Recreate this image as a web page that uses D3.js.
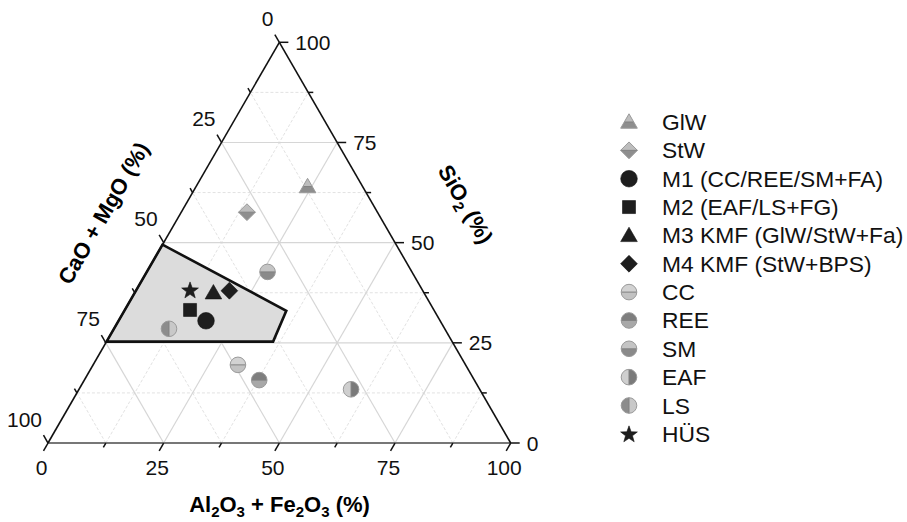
<!DOCTYPE html>
<html>
<head>
<meta charset="utf-8">
<script src="https://cdn.jsdelivr.net/npm/d3@7"></script>
<style>
  html,body{margin:0;padding:0;background:#fff;}
  svg{display:block;font-family:"Liberation Sans",Arial,sans-serif;}
</style>
</head>
<body>
<svg id="chart" width="907" height="522"></svg>
<script>
// ---------------- DATA ----------------
const names = ["GlW","StW","M1 (CC/REE/SM+FA)","M2 (EAF/LS+FG)","M3 KMF (GlW/StW+Fa)","M4 KMF (StW+BPS)","CC","REE","SM","EAF","LS","HÜS"];
const alFe  = [24.1, 14.2, 18.9, 14.1, 17.0, 20.2, 31.3, 37.8, 26.1, 58.8, 11.9, 11.6];
const caoMg = [11.9, 28.2, 50.6, 52.7, 45.5, 41.8, 49.2, 46.5, 31.2, 27.8, 59.6, 50.2];
const sio2  = [64.0, 57.6, 30.5, 33.2, 37.5, 38.0, 19.5, 15.7, 42.7, 13.4, 28.5, 38.2];
const shapes = ["triangle","diamond","circle","square","triangle","diamond","circle","circle","circle","circle","circle","star"];
const fillsA = ["#bdbdbd","#bdbdbd","#1e1e1e","#1e1e1e","#1e1e1e","#1e1e1e","#d2d2d2","#7e7e7e","#c4c4c4","#cfcfcf","#8c8c8c","#1e1e1e"];
const fillsB = ["#8e8e8e","#8e8e8e","#1e1e1e","#1e1e1e","#1e1e1e","#1e1e1e","#c2c2c2","#a8a8a8","#8a8a8a","#7a7a7a","#c8c8c8","#1e1e1e"];
const splits = ["h","h",null,null,null,null,"h","h","h","v","v",null];

// field polygon (Al2O3+Fe2O3, CaO+MgO, SiO2)
const polyAl  = [0, 0, 36, 35];
const polyCao = [50.5, 74.7, 38.7, 32];
const polySi  = [49.5, 25.3, 25.3, 33];

const majorTicks = [0, 25, 50, 75, 100];
const minorTicks = [12.5, 37.5, 62.5, 87.5];
const gridMajor = [25, 50, 75];

// ---------------- SCALES ----------------
const svg = d3.select("#chart");
const xS = d3.scaleLinear().domain([0,100]).range([48,510.7]);
const yS = d3.scaleLinear().domain([0,100]).range([443,42.3]);
const proj = (al, si) => [xS(al + si/2), yS(si)];

const defs = svg.append("defs");
[["clipTop",-20,-20,40,20],["clipBot",-20,0,40,20],["clipLeft",-20,-20,20,40],["clipRight",0,-20,20,40]].forEach(c=>{
  defs.append("clipPath").attr("id",c[0]).attr("clipPathUnits","userSpaceOnUse")
    .append("rect").attr("x",c[1]).attr("y",c[2]).attr("width",c[3]).attr("height",c[4]);
});

// ---------------- GRID ----------------
const grid = svg.append("g");
function gridLines(v, major){
  const segs = [
    [proj(0,v), proj(100-v,v)],          // const SiO2
    [proj(v,0), proj(v,100-v)],          // const Al2O3
    [proj(100-v,0), proj(0,100-v)]       // const CaO
  ];
  segs.forEach(s=>{
    grid.append("line")
      .attr("x1",s[0][0]).attr("y1",s[0][1]).attr("x2",s[1][0]).attr("y2",s[1][1])
      .attr("stroke", major ? "#d6d6d6" : "#e2e2e2")
      .attr("stroke-width", major ? 1.2 : 1)
      .attr("stroke-dasharray", major ? null : "3,2");
  });
}
minorTicks.forEach(v=>gridLines(v,false));
gridMajor.forEach(v=>gridLines(v,true));

// ---------------- POLYGON ----------------
const polyPts = polyAl.map((a,i)=>proj(a, polySi[i]));
svg.append("path")
  .attr("d", d3.line()(polyPts) + "Z")
  .attr("fill","#dcdcdc")
  .attr("stroke","#111").attr("stroke-width",2.6).attr("stroke-linejoin","miter");

// ---------------- AXES ----------------
const A = proj(0,0), B = proj(100,0), C = proj(0,100);
svg.append("line").attr("x1",A[0]).attr("y1",A[1]).attr("x2",B[0]).attr("y2",B[1]).attr("stroke","#777").attr("stroke-width",2.2);
svg.append("line").attr("x1",A[0]).attr("y1",A[1]).attr("x2",C[0]).attr("y2",C[1]).attr("stroke","#111").attr("stroke-width",1.6);
svg.append("line").attr("x1",B[0]).attr("y1",B[1]).attr("x2",C[0]).attr("y2",C[1]).attr("stroke","#111").attr("stroke-width",1.6);

const axG = svg.append("g").attr("stroke","#111").attr("stroke-width",1.5);
function ticks(vals, len){
  vals.forEach(v=>{
    let p = proj(v,0);       // bottom
    axG.append("line").attr("x1",p[0]).attr("y1",p[1]).attr("x2",p[0]-0.5*len).attr("y2",p[1]+0.866*len);
    p = proj(0,100-v);       // left (CaO = v)
    axG.append("line").attr("x1",p[0]).attr("y1",p[1]).attr("x2",p[0]-0.5*len).attr("y2",p[1]-0.866*len);
    p = proj(100-v,v);       // right (SiO2 = v)
    axG.append("line").attr("x1",p[0]).attr("y1",p[1]).attr("x2",p[0]+len).attr("y2",p[1]);
  });
}
ticks(majorTicks, 9);
ticks(minorTicks, 5);

const lab = svg.append("g").attr("font-size",21).attr("fill","#111");
majorTicks.forEach(v=>{
  let p = proj(v,0);
  lab.append("text").attr("x",p[0]-6.5).attr("y",p[1]+31.5).attr("text-anchor","middle").text(v);
  p = proj(0,100-v);
  lab.append("text").attr("x",p[0]-6).attr("y",p[1]-16.5).attr("text-anchor","end").text(v);
  p = proj(100-v,v);
  lab.append("text").attr("x",p[0]+16).attr("y",p[1]+7.5).attr("text-anchor","start").text(v);
});

// axis titles
const t1 = svg.append("text").attr("font-size",22).attr("font-weight","bold").attr("text-anchor","middle")
  .attr("x",279.5).attr("y",512);
t1.append("tspan").text("Al");
t1.append("tspan").attr("font-size",15).attr("dy",5).text("2");
t1.append("tspan").attr("dy",-5).text("O");
t1.append("tspan").attr("font-size",15).attr("dy",5).text("3");
t1.append("tspan").attr("dy",-5).text(" + Fe");
t1.append("tspan").attr("font-size",15).attr("dy",5).text("2");
t1.append("tspan").attr("dy",-5).text("O");
t1.append("tspan").attr("font-size",15).attr("dy",5).text("3");
t1.append("tspan").attr("dy",-5).text(" (%)");

svg.append("text").attr("font-size",22).attr("font-weight","bold").attr("text-anchor","middle")
  .attr("transform","translate(110,217) rotate(-60)").text("CaO + MgO (%)");

const t3 = svg.append("text").attr("font-size",22).attr("font-weight","bold").attr("text-anchor","middle")
  .attr("transform","translate(459,208) rotate(60)");
t3.append("tspan").text("SiO");
t3.append("tspan").attr("font-size",15).attr("dy",5).text("2");
t3.append("tspan").attr("dy",-5).text(" (%)");

// ---------------- MARKERS ----------------
function shapePath(s){
  switch(s){
    case "circle": return null;
    case "square": return "M-6.5,-6.5H6.5V6.5H-6.5Z";
    case "triangle": return "M0,-8.2L8.3,6.2L-8.3,6.2Z";
    case "diamond": return "M0,-8.4L8.4,0L0,8.4L-8.4,0Z";
    case "star": {
      const pts=[];
      for(let k=0;k<10;k++){
        const r = k%2===0 ? 8.8 : 3.6;
        const a = -Math.PI/2 + k*Math.PI/5;
        pts.push([r*Math.cos(a), r*Math.sin(a)+0.8]);
      }
      return d3.line()(pts)+"Z";
    }
  }
}
function drawMarker(g, i){
  const s = shapes[i], split = splits[i];
  const isCircle = s==="circle";
  const r = split ? 7.8 : 8.3;
  const mk = (sel)=> isCircle ? sel.append("circle").attr("r",r) : sel.append("path").attr("d",shapePath(s));
  if(!split){
    mk(g).attr("fill",fillsA[i]).attr("stroke","#111").attr("stroke-width",0.6);
    return;
  }
  const ca = split==="h" ? "url(#clipTop)" : "url(#clipLeft)";
  const cb = split==="h" ? "url(#clipBot)" : "url(#clipRight)";
  mk(g).attr("fill",fillsA[i]).attr("clip-path",ca);
  mk(g).attr("fill",fillsB[i]).attr("clip-path",cb);
  if(split==="h"){
    const w = isCircle ? r : (s==="triangle" ? 4.3 : 8.4);
    g.append("line").attr("x1",-w).attr("x2",w).attr("y1",0).attr("y2",0).attr("stroke","#808080").attr("stroke-width",1);
  } else {
    g.append("line").attr("x1",0).attr("x2",0).attr("y1",-r).attr("y2",r).attr("stroke","#808080").attr("stroke-width",1);
  }
  mk(g).attr("fill","none").attr("stroke","#9a9a9a").attr("stroke-width",1);
}

const order = [0,1,8,6,7,9,10,11,3,4,5,2];
const pts = svg.append("g");
order.forEach(i=>{
  const p = proj(alFe[i], sio2[i]);
  const g = pts.append("g").attr("transform",`translate(${p[0]},${p[1]})`);
  drawMarker(g,i);
});

// ---------------- LEGEND ----------------
const leg = svg.append("g");
names.forEach((n,i)=>{
  const y = 122 + i*28.35;
  const g = leg.append("g").attr("transform",`translate(629,${y})`);
  drawMarker(g,i);
  leg.append("text").attr("x",662).attr("y",y+8).attr("font-size",22.8).attr("fill","#111").text(n);
});
</script>
</body>
</html>
